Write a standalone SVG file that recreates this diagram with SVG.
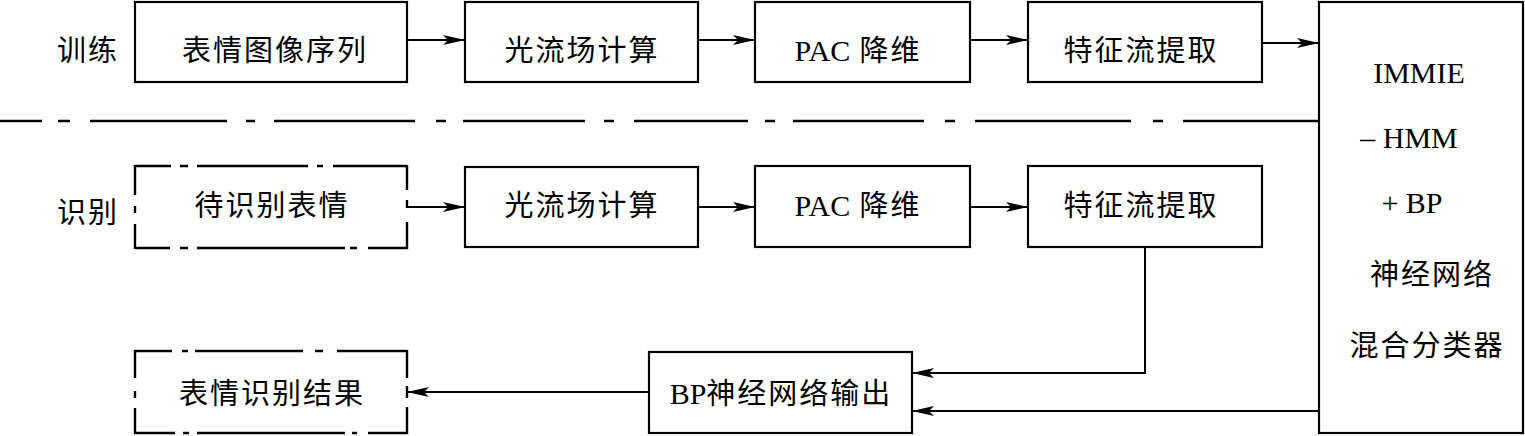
<svg xmlns="http://www.w3.org/2000/svg" width="1525" height="436" viewBox="0 0 1525 436">
<style>
.box{fill:#fff;stroke:#000;stroke-width:2.2}
.dash{fill:none;stroke:#000;stroke-width:2.4}
.ln{fill:none;stroke:#000;stroke-width:2}
.zh{font-family:"Liberation Serif","Noto Sans CJK SC",serif;font-size:29px;fill:#000;letter-spacing:2px}
.lat{font-family:"Liberation Serif","Noto Sans CJK SC",serif;font-size:30px;fill:#000;letter-spacing:0}
.mid{text-anchor:middle}
</style>
<defs>
<marker id="ah" markerUnits="userSpaceOnUse" viewBox="0 -6 24 12" refX="22" refY="0" markerWidth="24" markerHeight="12" orient="auto">
<path d="M0,-5 L22,0 L0,5 L5,0 Z" fill="#000"/>
</marker>
</defs>
<rect width="1525" height="436" fill="#fff"/>

<g id="row-labels">
<text class="zh" x="88" y="61" text-anchor="middle">训练</text>
<text class="zh" x="88" y="223" text-anchor="middle">识别</text>
</g>

<g id="separator">
<path class="dash" d="M0,121H42M58,121H70M90,121H227M246,121H255M274,121H415M436,121H446M463,121H585M604,121H614M634,121H748M765,121H775M793,121H924M945,121H955M975,121H1131M1153,121H1163M1183,121H1320"/>
</g>

<g id="n-train-seq">
<rect class="box" x="135" y="2" width="272" height="80"/>
<text class="zh mid" x="275" y="61">表情图像序列</text>
</g>
<g id="n-train-flow">
<rect class="box" x="465" y="2" width="233" height="80"/>
<text class="zh mid" x="582" y="61">光流场计算</text>
</g>
<g id="n-train-pac">
<rect class="box" x="755" y="2" width="215" height="80"/>
<text class="zh mid" x="858" y="61"><tspan class="lat">PAC</tspan> 降维</text>
</g>
<g id="n-train-feat">
<rect class="box" x="1028" y="2" width="234" height="80"/>
<text class="zh mid" x="1141" y="61">特征流提取</text>
</g>

<g id="n-classifier">
<rect class="box" x="1319" y="2" width="204" height="431"/>
<text class="lat mid" x="1419" y="83">IMMIE</text>
<text class="lat mid" x="1409" y="148">– HMM</text>
<text class="lat mid" x="1412" y="213">+ BP</text>
<text class="zh mid" x="1432" y="285">神经网络</text>
<text class="zh mid" x="1427" y="356">混合分类器</text>
</g>

<g id="n-rec-input">
<path class="dash" d="M135,166H171M180,166H188M197,166H308M317,166H323M333,166H407
M135,248H170M180,248H188M197,248H345M350,248H357M368,248H407
M135,165V195M135,206V213M135,224V249
M407,165V190M407,200V208M407,222V249"/>
<text class="zh mid" x="272" y="216">待识别表情</text>
</g>
<g id="n-rec-flow">
<rect class="box" x="465" y="167" width="233" height="80"/>
<text class="zh mid" x="582" y="216">光流场计算</text>
</g>
<g id="n-rec-pac">
<rect class="box" x="755" y="166" width="215" height="81"/>
<text class="zh mid" x="858" y="216"><tspan class="lat">PAC</tspan> 降维</text>
</g>
<g id="n-rec-feat">
<rect class="box" x="1028" y="166" width="234" height="81"/>
<text class="zh mid" x="1141" y="216">特征流提取</text>
</g>

<g id="n-bp-out">
<rect class="box" x="649" y="352" width="263" height="81"/>
<text class="zh mid" x="781" y="404"><tspan class="lat">BP</tspan>神经网络输出</text>
</g>

<g id="n-result">
<path class="dash" d="M135,351H172M182,351H188M195,351H303M315,351H323M337,351H407
M135,433H175M183,433H189M197,433H345M352,433H357M368,433H407
M135,350V378M135,391V398M135,408V434
M407,350V378M407,386V398M407,407V434"/>
<text class="zh mid" x="272" y="404">表情识别结果</text>
</g>

<g id="connectors">
<line class="ln" x1="407" y1="40" x2="465" y2="40" marker-end="url(#ah)"/>
<line class="ln" x1="698" y1="40" x2="755" y2="40" marker-end="url(#ah)"/>
<line class="ln" x1="970" y1="40" x2="1028" y2="40" marker-end="url(#ah)"/>
<line class="ln" x1="1262" y1="43" x2="1319" y2="43" marker-end="url(#ah)"/>
<line class="ln" x1="407" y1="207" x2="465" y2="207" marker-end="url(#ah)"/>
<line class="ln" x1="698" y1="207" x2="755" y2="207" marker-end="url(#ah)"/>
<line class="ln" x1="970" y1="207" x2="1028" y2="207" marker-end="url(#ah)"/>
<polyline class="ln" points="1145,247 1145,373 912,373" marker-end="url(#ah)"/>
<line class="ln" x1="1319" y1="411" x2="912" y2="411" marker-end="url(#ah)"/>
<line class="ln" x1="649" y1="392" x2="407" y2="392" marker-end="url(#ah)"/>
</g>
</svg>
